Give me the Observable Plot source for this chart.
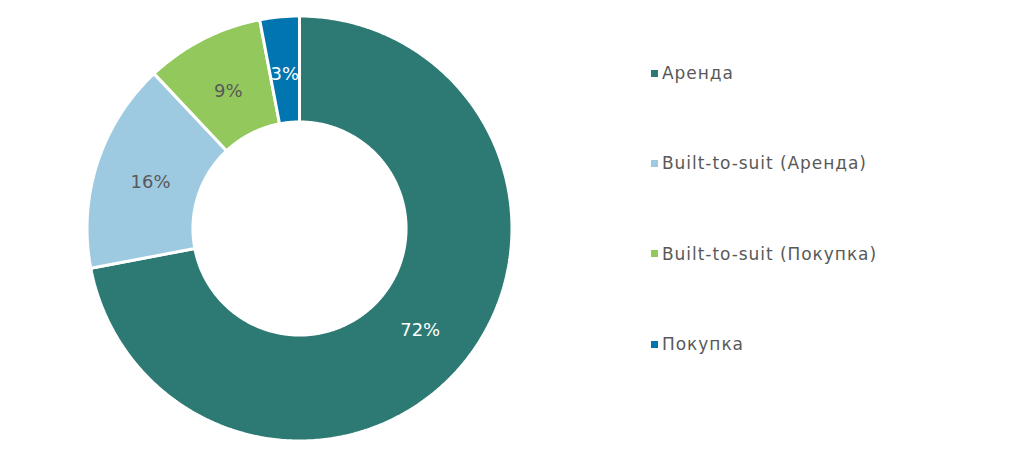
<!DOCTYPE html>
<html><head><meta charset="utf-8">
<script src="https://cdn.jsdelivr.net/npm/d3@7"></script>
<script src="https://cdn.jsdelivr.net/npm/@observablehq/plot@0.6"></script>
<style>
body{margin:0;background:#fff;font-family:"DejaVu Sans",Verdana,sans-serif}
#wrap{position:relative;width:1024px;height:461px;overflow:hidden}
.item{position:absolute;left:651px;white-space:nowrap;display:flex;align-items:center;font-size:17px;letter-spacing:0.95px;color:#595959;transform:translateY(-50%);line-height:20px}
.sw{width:7px;height:7px;margin-right:4px;flex:none}
</style></head><body>
<div id="wrap"><div id="chart"></div></div>
<script>
const categories = ["Аренда","Built-to-suit (Аренда)","Built-to-suit (Покупка)","Покупка"];
const shares = [72,16,9,3];
const labels = ["72%","16%","9%","3%"];
const colors = ["#2C7A73","#9ECAE1","#92C85C","#0075B0"];
const labelColors = ["#ffffff","#595959","#595959","#ffffff"];

const inner = 0.505, outer = 1.007;
const arcs = d3.pie().sort(null).value(d => d)(shares);
const pts = [];
const cents = [];
arcs.forEach((a, i) => {
  const n = Math.max(4, Math.ceil((a.endAngle - a.startAngle) / 0.01));
  for (let k = 0; k <= n; k++) {
    const t = a.startAngle + (a.endAngle - a.startAngle) * k / n;
    pts.push({cat: categories[i], color: colors[i], x: outer * Math.sin(t), y: outer * Math.cos(t)});
  }
  for (let k = n; k >= 0; k--) {
    const t = a.startAngle + (a.endAngle - a.startAngle) * k / n;
    pts.push({cat: categories[i], color: colors[i], x: inner * Math.sin(t), y: inner * Math.cos(t)});
  }
  const m = (a.startAngle + a.endAngle) / 2, r = (inner + 1) / 2 - 0.01;
  cents.push({label: labels[i], color: labelColors[i], x: r * Math.sin(m), y: r * Math.cos(m)});
});

const W = 1024, H = 461;
const plot = Plot.plot({
  width: W, height: H,
  marginLeft: 88, marginRight: W - 510, marginTop: 17, marginBottom: H - 439,
  x: {domain: [-1, 1], axis: null},
  y: {domain: [-1, 1], axis: null},
  color: {type: "identity"},
  style: {fontFamily: "'DejaVu Sans', Verdana, sans-serif", background: "#fff", overflow: "visible"},
  marks: [
    Plot.line(pts, {x: "x", y: "y", z: "cat", fill: "color", stroke: "#fff", strokeWidth: 3, curve: "linear-closed", strokeLinejoin: "miter"}),
    Plot.text(cents, {x: "x", y: "y", text: "label", fill: "color", fontSize: 18, dy: 2, letterSpacing: 1})
  ]
});
document.getElementById("chart").appendChild(plot);

const wrap = document.getElementById("wrap");
categories.forEach((c, i) => {
  const d = document.createElement("div");
  d.className = "item";
  d.style.top = (73 + i * 90.4) + "px";
  const s = document.createElement("span");
  s.className = "sw"; s.style.background = colors[i];
  const t = document.createElement("span");
  t.textContent = c;
  d.appendChild(s); d.appendChild(t);
  wrap.appendChild(d);
});
</script>
</body></html>
